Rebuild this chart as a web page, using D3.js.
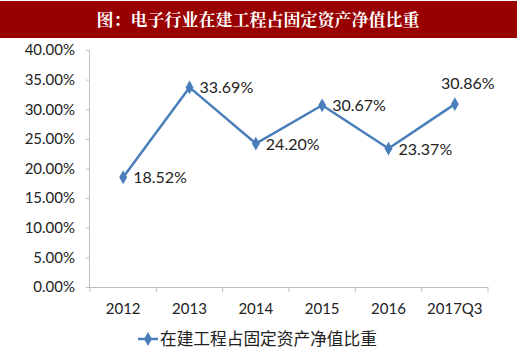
<!DOCTYPE html>
<html><head><meta charset="utf-8">
<script src="https://cdn.jsdelivr.net/npm/d3@7/dist/d3.min.js"></script>
<style>body{margin:0;background:#fff}svg{display:block}</style>
</head><body><svg id="c" width="517" height="353"></svg>
<script>
const categories = ["2012","2013","2014","2015","2016","2017Q3"];
const values = [18.52, 33.69, 24.20, 30.67, 23.37, 30.86];
const yTicks = [0,5,10,15,20,25,30,35,40];
const seriesName = "在建工程占固定资产净值比重";
const title = "图：电子行业在建工程占固定资产净值比重";

(function(){
const svg = d3.select("#c");
const W = 517, H = 353;
const mL = 90, mR = 488, mT = 50, mB = 287;
const color = "#4a7ebb";
const numFont = "Lato, sans-serif";

svg.append("rect").attr("x",0).attr("y",1).attr("width",W).attr("height",37).attr("fill","#990000");
svg.append("text").attr("x",258).attr("y",26).attr("text-anchor","middle")
  .attr("fill","#fff").attr("font-size",17).attr("font-weight","bold")
  .attr("font-family","'Noto Serif CJK SC','Noto Sans CJK SC',sans-serif").text(title);

const x = d3.scaleBand().domain(categories).range([mL,mR]);
const y = d3.scaleLinear().domain([0,40]).range([mB,mT]);

// y axis
const yAxis = d3.axisLeft(y).tickValues(yTicks).tickSize(4).tickPadding(11)
  .tickFormat(d => d.toFixed(2)+"%");
const gy = svg.append("g").attr("transform",`translate(${mL},0)`).call(yAxis);
gy.select(".domain").attr("stroke","#bfbfbf").attr("d",`M-0.5,${mT}V${mB}`);
gy.selectAll(".tick line").attr("stroke","#bfbfbf");
gy.selectAll(".tick text").attr("font-size",15).attr("font-family",numFont).attr("fill","#222");

// x axis
const gx = svg.append("g").attr("transform",`translate(0,${mB})`);
gx.append("line").attr("x1",mL).attr("x2",mR).attr("y1",0.5).attr("y2",0.5).attr("stroke","#bfbfbf");
const bounds = categories.map(c => x(c)).concat([mR]);
gx.selectAll("line.t").data(bounds).enter().append("line").attr("class","t")
  .attr("x1",d=>d).attr("x2",d=>d).attr("y1",0).attr("y2",5).attr("stroke","#bfbfbf");
gx.selectAll("text").data(categories).enter().append("text")
  .attr("x",d=>x(d)+x.bandwidth()/2).attr("y",27).attr("text-anchor","middle")
  .attr("font-size",15).attr("font-family",numFont).attr("fill","#222").text(d=>d);

// line
const cx = (d,i) => x(categories[i]) + x.bandwidth()/2;
const line = d3.line().x((d,i)=>cx(d,i)).y(d=>y(d));
svg.append("path").datum(values).attr("d",line).attr("fill","none")
  .attr("stroke",color).attr("stroke-width",2.5).attr("stroke-linejoin","round");
const diamond = d3.symbol().type(d3.symbolDiamond).size(55);
svg.selectAll("path.m").data(values).enter().append("path").attr("class","m")
  .attr("d",diamond).attr("fill",color)
  .attr("transform",(d,i)=>`translate(${cx(d,i)},${y(d)})`);

// labels
svg.selectAll("text.lab").data(values).enter().append("text").attr("class","lab")
  .attr("x",(d,i)=> i===values.length-1 ? cx(d,i)+13 : cx(d,i)+10)
  .attr("y",(d,i)=> i===values.length-1 ? y(d)-15 : y(d)+6)
  .attr("text-anchor",(d,i)=> i===values.length-1 ? "middle" : "start")
  .attr("font-size",16).attr("font-family",numFont).attr("fill","#222")
  .text(d=>d.toFixed(2)+"%");

// legend
const ly = 339;
svg.append("line").attr("x1",138).attr("x2",158).attr("y1",ly).attr("y2",ly).attr("stroke",color).attr("stroke-width",2.5);
svg.append("path").attr("d",diamond).attr("fill",color).attr("transform",`translate(148,${ly})`);
svg.append("text").attr("x",160).attr("y",ly+6).attr("font-size",16.7)
  .attr("font-family","'Noto Sans CJK SC',sans-serif").attr("fill","#222").text(seriesName);
})();
</script></body></html>
